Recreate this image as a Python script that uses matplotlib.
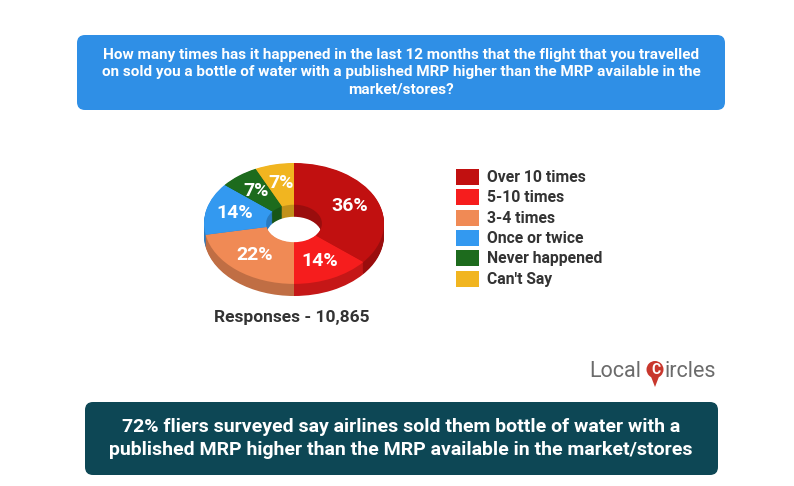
import numpy as np
import matplotlib
matplotlib.use("Agg")
import matplotlib.pyplot as plt
from matplotlib.patches import FancyBboxPatch, Rectangle, Circle, Polygon
from matplotlib import colors as mcolors

plt.rcParams['font.family'] = ['Roboto', 'DejaVu Sans']

# data
labels = ['Over 10 times', '5-10 times', '3-4 times', 'Once or twice',
          'Never happened', "Can't Say"]
values = [36, 14, 22, 14, 7, 7]
slice_colors = ['#c11010', '#f61d1d', '#f08a55', '#3399f0', '#1d6b1d', '#f1b520']
question = ("How many times has it happened in the last 12 months that the flight that you travelled\n"
            "on sold you a bottle of water with a published MRP higher than the MRP available in the\n"
            "market/stores?")
summary = ("72% fliers surveyed say airlines sold them bottle of water with a\n"
           "published MRP higher than the MRP available in the market/stores")
responses = "Responses - 10,865"

W, H = 794, 486
fig = plt.figure(figsize=(W / 100, H / 100), dpi=100)
fig.patch.set_facecolor('white')

bg = fig.add_axes([0, 0, 1, 1])
bg.set_xlim(0, W)
bg.set_ylim(H, 0)
bg.axis('off')

# question box
bg.add_patch(FancyBboxPatch((77, 35), 648, 75, boxstyle="round,pad=0,rounding_size=8",
                            fc='#2f8fe6', ec='none'))
bg.text(401, 72, question, ha='center', va='center', color='white', fontsize=11,
        fontweight='bold', linespacing=1.3)

# summary box
bg.add_patch(FancyBboxPatch((85, 402), 633, 73, boxstyle="round,pad=0,rounding_size=8",
                            fc='#0d4755', ec='none'))
bg.text(401, 438.5, summary, ha='center', va='center', color='white', fontsize=14,
        fontweight='bold', linespacing=1.42)

bg.text(292, 317, responses, ha='center', va='center', color='#333333', fontsize=12.5,
        fontweight='bold')

# legend
for i, (lab, c) in enumerate(zip(labels, slice_colors)):
    y = 169 + i * 20.3
    bg.add_patch(Rectangle((456, y), 23, 16, fc=c, ec='none'))
    bg.text(487, y + 8.5, lab, ha='left', va='center', color='#333333', fontsize=11.3,
            fontweight='bold')

# logo
bg.text(589, 371, 'Local', ha='left', va='center', color='#6b6b6b', fontsize=15.5)
bg.add_patch(Polygon([[650, 374], [660, 374], [655, 387]], closed=True, fc='#c8372d', ec='none'))
bg.add_patch(Circle((655, 369.5), 8.5, fc='#c8372d', ec='none'))
bg.text(655.5, 370, 'C', ha='center', va='center', color='white', fontsize=10, fontweight='bold')
bg.text(665, 371, 'ircles', ha='left', va='center', color='#6b6b6b', fontsize=15.5)

# donut with depth
ax = fig.add_axes([204 / W, 1 - 296 / H, 180 / W, 133 / H])
hole = 0.31
depth = 0.2
side_colors = [tuple(np.array(mcolors.to_rgb(c)) * 0.8) for c in slice_colors]
for off in np.linspace(-depth, -0.01, 14):
    ax.pie(values, colors=side_colors, startangle=90, counterclock=False,
           center=(0, off), radius=1, wedgeprops=dict(width=1 - hole, linewidth=0))
ax.pie(values, colors=slice_colors, startangle=90, counterclock=False,
       radius=1, wedgeprops=dict(width=1 - hole, linewidth=0),
       autopct=lambda p: f'{p:.0f}%', pctdistance=0.68,
       textprops=dict(color='white', fontsize=14, fontweight='bold'))
ax.set_aspect('auto')
ax.set_xlim(-1, 1)
ax.set_ylim(-1 - depth, 1)
ax.axis('off')

fig.savefig('out.png', dpi=100)
